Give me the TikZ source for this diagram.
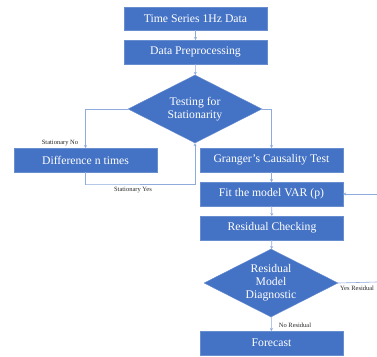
\documentclass[tikz,border=0pt]{standalone}
\usepackage{fontspec}
\setmainfont{Liberation Serif}
\usetikzlibrary{shapes.geometric,arrows.meta}
\definecolor{boxblue}{HTML}{4472C4}
\definecolor{linkblue}{HTML}{8FAADC}
\begin{document}
\begin{tikzpicture}[x=1pt,y=-1pt,
  box/.style={rectangle,fill=boxblue,draw=boxblue!80!white,line width=0.4pt,text=white,
    minimum width=143pt,minimum height=23.5pt,inner sep=0pt,font=\fontsize{11.7}{13}\selectfont},
  dia/.style={diamond,aspect=2,fill=boxblue,draw=boxblue!80!white,line width=0.4pt,text=white,
    minimum width=134pt,minimum height=68pt,inner sep=0pt,align=center,font=\fontsize{11.7}{13}\selectfont},
  link/.style={draw=linkblue,line width=0.6pt},
  arr/.style={link,-{Stealth[length=3pt,width=3pt]}},
  lbl/.style={font=\fontsize{6.5}{7.5}\selectfont,text=black!85,inner sep=0pt}]
\useasboundingbox (0,0) rectangle (377,356);
\node[box] (b1) at (195.5,18.5) {Time Series 1Hz Data};
\node[box] (b2) at (195.5,52) {Data Preprocessing};
\node[dia] (d1) at (195,109) {Testing for\\Stationarity};
\node[box] (diff) at (85.5,160) {Difference n times};
\node[box] (gr) at (271.5,160) {Granger’s Causality Test};
\node[box] (fit) at (271.5,194) {Fit the model VAR (p)};
\node[box] (rc) at (272,228) {Residual Checking};
\node[dia] (d2) at (271,283) {Residual\\Model\\Diagnostic};
\node[box] (fc) at (271.5,343) {Forecast};
\coordinate (c1) at (86,184);
\coordinate (e1) at (377,282);
\coordinate (e2) at (377,194);
\draw[arr] (b1) -- (b2);
\draw[arr] (b2) -- (d1);
\draw[arr] (d1.west) -| (diff.north);
\draw[arr] (d1.east) -| (gr.north);
\draw[arr] (diff.south) |- (c1) -| (d1.south);
\draw[arr] (gr) -- (fit);
\draw[arr] (fit) -- (rc);
\draw[arr] (rc) -- (d2);
\draw[arr] (d2) -- (fc);
\draw[link] (d2.east) -- (e1);
\draw[arr] (e2) -- (fit.east);
\node[lbl] (l1) at (60,143) {Stationary No};
\node[lbl] (l2) at (133,190) {Stationary Yes};
\node[lbl] (l3) at (295,325) {No Residual};
\node[lbl,anchor=west] (l4) at (340,288) {Yes Residual};
\end{tikzpicture}
\end{document}
